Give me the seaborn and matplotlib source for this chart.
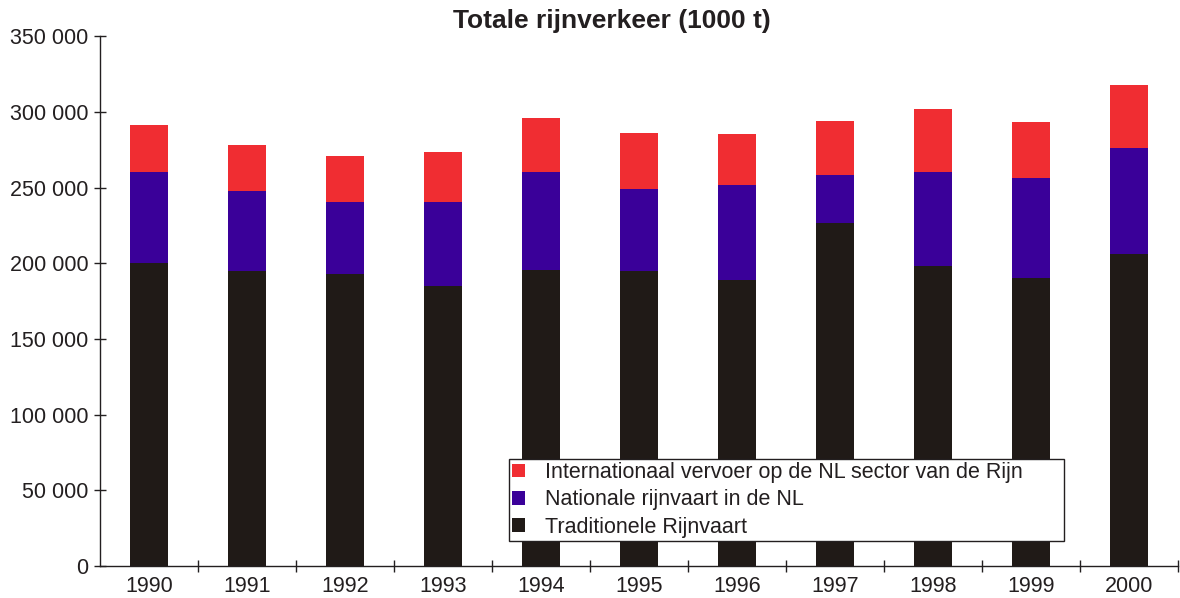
import pandas as pd
import matplotlib
matplotlib.use("Agg")
import matplotlib.pyplot as plt
import seaborn as sns
from matplotlib.ticker import FuncFormatter, FixedLocator
from matplotlib.patches import Patch

# Data (1000 t)
years = ['1990', '1991', '1992', '1993', '1994', '1995', '1996', '1997', '1998', '1999', '2000']
traditioneel = [200400, 194700, 193200, 185200, 195600, 195100, 188700, 226900, 198000, 190500, 206200]
nationaal = [59900, 52800, 47200, 55000, 64700, 53700, 63200, 31100, 62300, 65600, 69700]
internationaal = [30900, 30900, 30500, 33300, 35500, 37300, 33500, 35800, 41900, 37500, 41600]

labels = ['Internationaal vervoer op de NL sector van de Rijn',
          'Nationale rijnvaart in de NL',
          'Traditionele Rijnvaart']
colors = ['#F02D32', '#3A0099', '#201A17']

df = pd.DataFrame({'year': years, 'trad': traditioneel, 'nat': nationaal, 'int': internationaal})
df['lvl_black'] = df['trad']
df['lvl_purple'] = df['trad'] + df['nat']
df['lvl_red'] = df['trad'] + df['nat'] + df['int']

sns.set_style('white', {'xtick.bottom': True, 'ytick.left': True})
plt.rcParams['font.family'] = ['Liberation Sans', 'DejaVu Sans']

fig = plt.figure(figsize=(11.8, 5.98), dpi=100)
ax = fig.add_axes([0.085, 0.0535, 0.913, 0.886])

# stacked bars drawn as layered totals
for col, c in zip(['lvl_red', 'lvl_purple', 'lvl_black'], colors):
    sns.barplot(data=df, x='year', y=col, color=c, width=0.39, saturation=1,
                edgecolor='none', linewidth=0, ax=ax)

ax.set_xlim(-0.5, 10.5)
ax.set_ylim(0, 350000)
ax.set_xlabel('')
ax.set_ylabel('')
ax.set_yticks(range(0, 350001, 50000))
ax.yaxis.set_major_formatter(FuncFormatter(lambda v, p: f'{int(v):,}'.replace(',', ' ')))
ax.xaxis.set_minor_locator(FixedLocator([i + 0.5 for i in range(11)]))
ax.tick_params(axis='x', which='major', length=0, labelsize=15.5, pad=7, colors='#231F20')
ax.tick_params(axis='x', which='minor', bottom=True, length=9, width=1, direction='inout',
               color='#231F20')
ax.tick_params(axis='y', left=True, length=9, width=1, direction='inout', labelsize=15.5,
               pad=4, colors='#231F20')

for s in ['top', 'right']:
    ax.spines[s].set_visible(False)
for s in ['left', 'bottom']:
    ax.spines[s].set_color('#231F20')
    ax.spines[s].set_linewidth(1)

fig.text(612 / 1180, 1 - 21 / 598, 'Totale rijnverkeer (1000 t)', fontsize=19,
         fontweight='bold', color='#231F20', ha='center', va='center')

handles = [Patch(facecolor=c, edgecolor='none') for c in colors]
leg = ax.legend(handles, labels, loc='lower left', mode='expand',
                bbox_to_anchor=(0.3794, 0.047, 0.515, 0.1),
                frameon=True, fancybox=False, framealpha=1, edgecolor='#231F20',
                fontsize=15.5, handlelength=0.6, handleheight=0.6, handletextpad=0.9,
                borderpad=0.15, labelspacing=0.3, borderaxespad=0)
leg.get_frame().set_linewidth(1)
for t in leg.get_texts():
    t.set_color('#231F20')

fig.savefig('out.png', dpi=100)
